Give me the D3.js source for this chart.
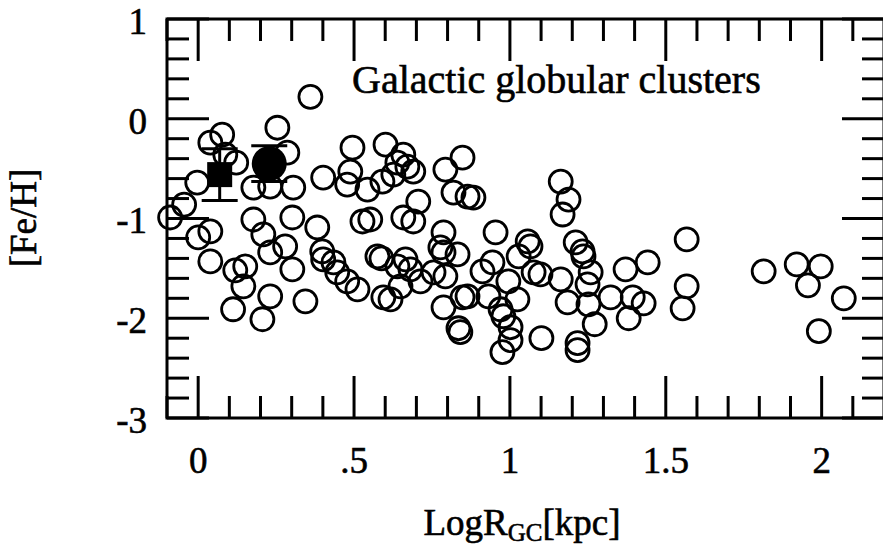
<!DOCTYPE html>
<html>
<head>
<meta charset="utf-8">
<script src="https://cdn.jsdelivr.net/npm/d3@7"></script>
<style>
  html, body { margin: 0; padding: 0; background: #fff; }
  svg { display: block; font-family: "Liberation Serif", "Times New Roman", serif; }
  svg text { fill: #000; stroke: #000; stroke-width: 0.6px; }
</style>
</head>
<body>
<div id="chart"></div>
<script>
// Galactic globular clusters: log R_GC [kpc] vs [Fe/H]
const logR = [
  -0.09, -0.045, -0.003, 0.00, 0.039, 0.039, 0.039, 0.077, 0.087, 0.122,
  0.119, 0.151, 0.145, 0.112, 0.206, 0.231, 0.177, 0.231, 0.305, 0.177,
  0.209, 0.231, 0.279, 0.302, 0.302, 0.344, 0.254, 0.286, 0.36, 0.382,
  0.398, 0.401, 0.434, 0.446, 0.478, 0.511, 0.527, 0.552, 0.401, 0.495,
  0.488, 0.478, 0.543, 0.601, 0.591, 0.626, 0.639, 0.575, 0.588, 0.594,
  0.617, 0.639, 0.658, 0.671, 0.69, 0.706, 0.69, 0.658, 0.848, 0.793,
  0.819, 0.864, 0.883, 0.787, 0.777, 0.787, 0.832, 0.954, 1.057, 1.066,
  1.028, 1.076, 1.098, 1.163, 1.188, 1.169, 1.211, 1.233, 1.236, 1.259,
  1.249, 1.252, 1.272, 1.217, 1.217, 1.371, 1.323, 1.381, 1.163, 1.185,
  1.101, 0.976, 1.002, 1.002, 0.979, 0.97, 1.024, 0.995, 0.931, 0.912,
  0.944, 0.848, 0.787, 0.835, 0.841, 0.681, 0.713, 0.649, 0.665, 0.755,
  0.793, 0.864, 1.567, 1.567, 1.554, 1.442, 1.429, 1.394, 1.814, 1.92,
  1.997, 1.956, 2.071, 1.991
];
const feH = [
  -0.99, -0.86, -0.64, -1.19, -1.13, -1.43, -0.24, -0.16, -0.36, -0.44,
  -1.52, -1.48, -1.68, -1.91, -2.01, -1.78, -0.69, -0.68, -0.69, -1.01,
  -1.16, -1.34, -1.28, -1.51, -0.99, -1.83, -0.09, -0.34, 0.22, -1.09,
  -1.33, -1.41, -1.44, -1.54, -1.63, -1.71, -1.03, -1.01, -0.59, -0.29,
  -0.53, -0.66, -0.71, -0.26, -0.63, -0.56, -0.44, -1.38, -1.40, -1.79,
  -1.81, -1.48, -0.36, -0.48, -0.53, -0.83, -1.03, -0.99, -0.39, -0.51,
  -0.74, -0.78, -0.79, -1.14, -1.29, -1.34, -1.36, -1.14, -1.23, -1.28,
  -1.38, -1.54, -1.56, -0.63, -0.81, -0.96, -1.24, -1.33, -1.38, -1.54,
  -1.66, -1.86, -2.06, -2.25, -2.32, -1.51, -1.79, -2.00, -1.61, -1.84,
  -2.20, -2.34, -2.22, -2.09, -1.98, -1.91, -1.81, -1.63, -1.78, -1.53,
  -1.44, -1.79, -1.89, -2.10, -2.14, -1.51, -1.63, -1.68, -1.41, -1.54,
  -1.58, -1.78, -1.21, -1.68, -1.90, -1.44, -1.85, -1.79, -1.53, -1.46,
  -1.48, -1.67, -1.80, -2.13
];

// the two highlighted objects with error bars
const squarePoint = { x: 0.069, y: -0.56, err: 0.26 };
const dotPoint = { x: 0.228, y: -0.45, err: 0.18 };

const xTickValues = [0, 0.5, 1, 1.5, 2];
const xTickLabels = ["0", ".5", "1", "1.5", "2"];
const yTickValues = [1, 0, -1, -2, -3];
const yTickLabels = ["1", "0", "-1", "-2", "-3"];

const titleText = "Galactic globular clusters";

const width = 883;
const height = 547;
const plotLeft = 167, plotRight = 884, plotTop = 19, plotBottom = 418;

const x = d3.scaleLinear().domain([-0.1, 2.2]).range([plotLeft, plotRight]);
const y = d3.scaleLinear().domain([-3, 1]).range([plotBottom, plotTop]);

const svg = d3.select("#chart")
  .append("svg")
  .attr("width", width)
  .attr("height", height);

const lw = 3;

// Ticks (inward on all four sides)
const xMinor = d3.range(-1, 22).map(i => i / 10);
const yMinor = d3.range(-15, 6).map(i => i / 5);
const isMajorX = v => Math.abs(v * 2 - Math.round(v * 2)) < 1e-6;
const isMajorY = v => Math.abs(v - Math.round(v)) < 1e-6;

const ticks = svg.append("g").attr("stroke", "#000").attr("stroke-width", lw);

xMinor.forEach(v => {
  const len = isMajorX(v) ? 42 : 22;
  ticks.append("line").attr("x1", x(v)).attr("x2", x(v)).attr("y1", plotBottom).attr("y2", plotBottom - len);
  ticks.append("line").attr("x1", x(v)).attr("x2", x(v)).attr("y1", plotTop).attr("y2", plotTop + len);
});
yMinor.forEach(v => {
  const len = isMajorY(v) ? 42 : 22;
  ticks.append("line").attr("x1", plotLeft).attr("x2", plotLeft + len).attr("y1", y(v)).attr("y2", y(v));
  ticks.append("line").attr("x1", plotRight).attr("x2", plotRight - len).attr("y1", y(v)).attr("y2", y(v));
});

// Frame
svg.append("rect")
  .attr("x", plotLeft).attr("y", plotTop)
  .attr("width", plotRight - plotLeft).attr("height", plotBottom - plotTop)
  .attr("fill", "none").attr("stroke", "#000").attr("stroke-width", lw);

// Tick labels
svg.append("g").selectAll("text")
  .data(xTickValues)
  .join("text")
  .attr("x", d => x(d))
  .attr("y", 473)
  .attr("text-anchor", "middle")
  .attr("font-size", 37)
  .text((d, i) => xTickLabels[i]);

svg.append("g").selectAll("text")
  .data(yTickValues)
  .join("text")
  .attr("x", 147)
  .attr("y", d => y(d))
  .attr("dy", "0.4em")
  .attr("text-anchor", "end")
  .attr("font-size", 37)
  .text((d, i) => yTickLabels[i]);

// Axis titles
svg.append("text")
  .attr("transform", "translate(36,218) rotate(-90)")
  .attr("text-anchor", "middle")
  .attr("font-size", 37)
  .text("[Fe/H]");

const xt = svg.append("text")
  .attr("x", 522)
  .attr("y", 535)
  .attr("text-anchor", "middle")
  .attr("font-size", 37);
xt.append("tspan").text("LogR");
xt.append("tspan").attr("font-size", 25).attr("dy", 6).text("GC");
xt.append("tspan").attr("dy", -6).text("[kpc]");

// Title inside the plot
svg.append("text")
  .attr("x", 352)
  .attr("y", 93)
  .attr("font-size", 40)
  .text(titleText);

// Open circles
svg.append("g").selectAll("circle")
  .data(logR.map((d, i) => [d, feH[i]]))
  .join("circle")
  .attr("cx", d => x(d[0]))
  .attr("cy", d => y(d[1]))
  .attr("r", 11.5)
  .attr("fill", "none")
  .attr("stroke", "#000")
  .attr("stroke-width", 2.8);

// Error bars for highlighted points
const capW = 18;
[squarePoint, dotPoint].forEach(p => {
  const g = svg.append("g").attr("stroke", "#000").attr("stroke-width", lw);
  g.append("line").attr("x1", x(p.x)).attr("x2", x(p.x)).attr("y1", y(p.y - p.err)).attr("y2", y(p.y + p.err));
  [p.y - p.err, p.y + p.err].forEach(v => {
    g.append("line").attr("x1", x(p.x) - capW).attr("x2", x(p.x) + capW).attr("y1", y(v)).attr("y2", y(v));
  });
});

svg.append("rect")
  .attr("x", x(squarePoint.x) - 12.5)
  .attr("y", y(squarePoint.y) - 12.5)
  .attr("width", 25).attr("height", 25)
  .attr("fill", "#000");

svg.append("circle")
  .attr("cx", x(dotPoint.x))
  .attr("cy", y(dotPoint.y))
  .attr("r", 17.5)
  .attr("fill", "#000");
</script>
</body>
</html>
